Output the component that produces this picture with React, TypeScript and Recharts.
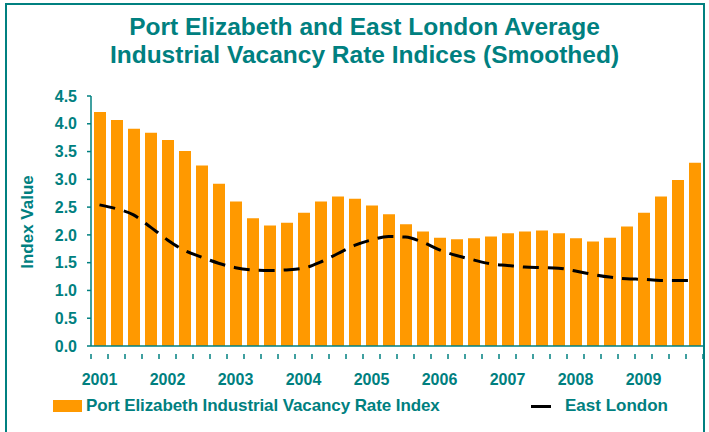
import React from "react";
import { ComposedChart, Bar, Line, XAxis, YAxis, Legend } from "recharts";

const TEAL = "#008080";
const ORANGE = "#FF9900";
const FONT = "'Liberation Sans', Arial, sans-serif";

const YEARS = ["2001", "2002", "2003", "2004", "2005", "2006", "2007", "2008", "2009"];
const QUARTERS = ["Q1", "Q2", "Q3", "Q4"];
const Y_TICKS = [0, 0.5, 1, 1.5, 2, 2.5, 3, 3.5, 4, 4.5];

const portElizabeth = [
  4.21, 4.07, 3.91, 3.84, 3.71, 3.51, 3.25, 2.92, 2.6, 2.3, 2.17, 2.22,
  2.4, 2.6, 2.69, 2.65, 2.53, 2.37, 2.19, 2.06, 1.95, 1.92, 1.94, 1.97,
  2.03, 2.06, 2.08, 2.03, 1.94, 1.88, 1.95, 2.15, 2.4, 2.69, 2.99, 3.3,
];

const eastLondon = [
  2.54, 2.47, 2.36, 2.14, 1.91, 1.72, 1.6, 1.49, 1.41, 1.37, 1.36, 1.37,
  1.4, 1.51, 1.66, 1.81, 1.91, 1.97, 1.96, 1.87, 1.73, 1.63, 1.55, 1.48,
  1.45, 1.42, 1.41, 1.4, 1.35, 1.29, 1.24, 1.21, 1.2, 1.18, 1.18, 1.18,
];

const categories = YEARS.flatMap((y) => QUARTERS.map((q) => `${y} ${q}`));

const data = categories.map((c, i) => ({
  period: c,
  pe: portElizabeth[i],
  el: eastLondon[i],
}));

const CHART_W = 709;
const CHART_H = 432;
const LEGEND_H = 24;
const MARGIN = { top: 96, right: 6, bottom: 56 - LEGEND_H, left: 40 };
const Y_AXIS_W = 51;
const BAND = (CHART_W - MARGIN.left - MARGIN.right - Y_AXIS_W) / categories.length;

function YearTick({ x, y, payload, index }: any) {
  const label = String(payload.value);
  const isQ1 = label.endsWith("Q1");
  const last = index === categories.length - 1;
  return (
    <g>
      <line x1={x - BAND / 2} x2={x - BAND / 2} y1={y} y2={y + 5} stroke={TEAL} strokeWidth={1.5} />
      {last && <line x1={x + BAND / 2} x2={x + BAND / 2} y1={y} y2={y + 5} stroke={TEAL} strokeWidth={1.5} />}
      {isQ1 && (
        <text x={x} y={y + 31} textAnchor="middle" fill={TEAL} fontSize={16} fontWeight={700} fontFamily={FONT}>
          {label.split(" ")[0]}
        </text>
      )}
    </g>
  );
}

function LegendContent() {
  return (
    <div style={{ position: "relative", width: CHART_W, height: LEGEND_H, fontFamily: FONT, fontWeight: 700, fontSize: 17, color: TEAL }}>
      <div style={{ position: "absolute", left: 53, top: 4, width: 29, height: 12, background: ORANGE }} />
      <div style={{ position: "absolute", left: 86, top: 0, lineHeight: "20px", letterSpacing: -0.1 }}>
        Port Elizabeth Industrial Vacancy Rate Index
      </div>
      <div style={{ position: "absolute", left: 531, top: 9, width: 20, height: 3, background: "#000" }} />
      <div style={{ position: "absolute", left: 565, top: 0, lineHeight: "20px" }}>East London</div>
    </div>
  );
}

export default function App() {
  return (
    <div style={{ position: "absolute", left: 0, top: 0, width: CHART_W, height: CHART_H, background: "#fff", overflow: "hidden" }}>
      <div
        style={{
          position: "absolute", left: 5, top: 3, width: 700, height: 440,
          border: `2px solid ${TEAL}`, boxSizing: "border-box",
        }}
      />
      <div
        style={{
          position: "absolute", left: 0, top: 13, width: 729, textAlign: "center",
          fontFamily: FONT, fontWeight: 700, fontSize: 24.5, lineHeight: "28px", color: TEAL,
        }}
      >
        Port Elizabeth and East London Average
        <br />
        Industrial Vacancy Rate Indices (Smoothed)
      </div>
      <div
        style={{
          position: "absolute", left: 28, top: 222, transform: "translate(-50%, -50%) rotate(-90deg)",
          fontFamily: FONT, fontWeight: 700, fontSize: 17, color: TEAL, whiteSpace: "nowrap",
        }}
      >
        Index Value
      </div>
      <div style={{ position: "absolute", left: 0, top: 0 }}>
        <ComposedChart width={CHART_W} height={CHART_H} data={data} margin={MARGIN}>
          <XAxis
            dataKey="period"
            interval={0}
            tickLine={false}
            axisLine={{ stroke: TEAL, strokeWidth: 1.5 }}
            tick={<YearTick />}
            height={30}
          />
          <YAxis
            domain={[0, 4.5]}
            ticks={Y_TICKS}
            width={Y_AXIS_W}
            tickFormatter={(v: number) => v.toFixed(1)}
            axisLine={{ stroke: TEAL, strokeWidth: 1.5 }}
            tickLine={{ stroke: TEAL, strokeWidth: 1.5 }}
            tickSize={4}
            tickMargin={10}
            tick={{ fill: TEAL, fontSize: 16, fontWeight: 700, fontFamily: FONT }}
          />
          <Legend
            content={<LegendContent />}
            wrapperStyle={{ position: "absolute", left: 0, top: 396, width: CHART_W }}
          />
          <Bar dataKey="pe" name="Port Elizabeth Industrial Vacancy Rate Index" fill={ORANGE} barSize={12} isAnimationActive={false} />
          <Line
            dataKey="el"
            name="East London"
            type="monotone"
            stroke="#000"
            strokeWidth={3}
            strokeDasharray="16 9"
            dot={false}
            activeDot={false}
            isAnimationActive={false}
          />
        </ComposedChart>
      </div>
    </div>
  );
}
